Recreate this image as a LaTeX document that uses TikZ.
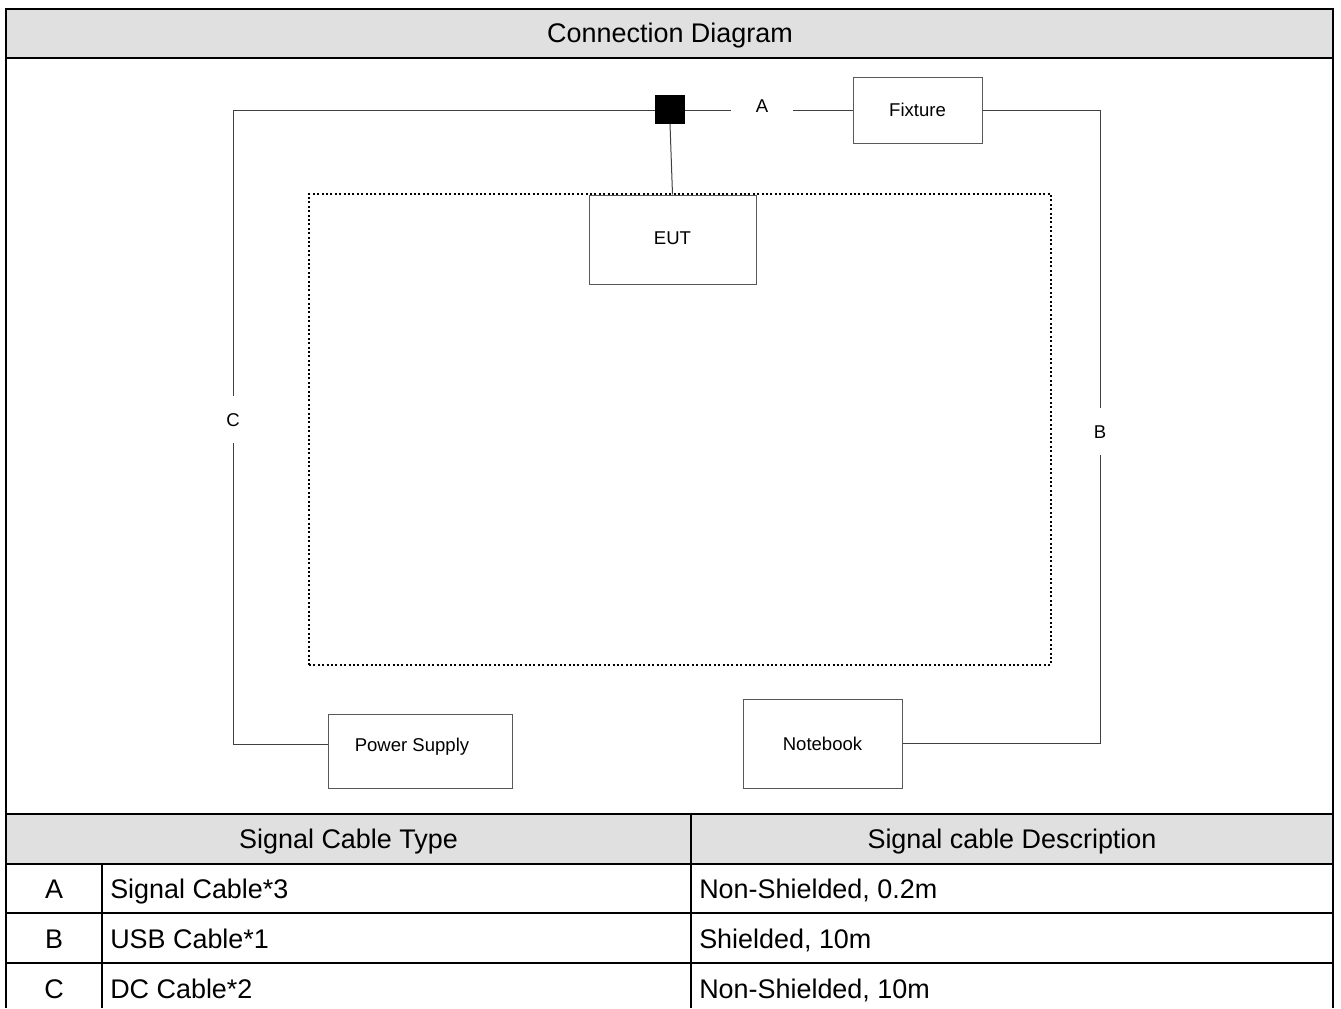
\documentclass[tikz,border=0pt]{standalone}
\usepackage{fontspec}
\setmainfont{Liberation Sans}
\usetikzlibrary{positioning}
\colorlet{Head}{black!12}
\colorlet{Wire}{black!75}
\tikzset{
  device/.style={draw=black!65, line width=0.75pt, fill=white, inner sep=0pt, font=\fontsize{13.9}{16}\selectfont},
  cable/.style={draw=Wire, line width=0.75pt},
  tag/.style={inner sep=0pt, text height=9.95pt, text depth=0pt, font=\fontsize{13.9}{16}\selectfont},
  rule/.style={black, line width=1.5pt},
  cell/.style={inner sep=0pt, text height=14.5pt, text depth=0pt, font=\fontsize{20.2}{24}\selectfont},
}

\begin{document}
\begin{tikzpicture}[x=0.75pt, y=-0.75pt]
        \useasboundingbox (0,0) rectangle (1341,1008);
        % grey bands and frame
        \fill[Head] (6,9) rectangle (1333,58);
        \fill[Head] (6,814) rectangle (1333,864);
        \draw[rule] (6,1008) -- (6,9) -- (1333,9) -- (1333,1008);
        \draw[rule] (6,58) -- (1333,58);
        \draw[rule] (6,814) -- (1333,814);
        \draw[rule] (6,864) -- (1333,864);
        \draw[rule] (6,913) -- (1333,913);
        \draw[rule] (6,963) -- (1333,963);
        \draw[rule] (691,814) -- (691,1008);
        \draw[rule] (102,864) -- (102,1008);
        \node[cell] (title) at (670,33) {Connection Diagram};

        % test area and devices
        \node[draw, line width=1.5pt, dash pattern=on 1.5pt off 1.8pt, minimum width=556.5pt, minimum height=353.25pt] (desk) at (680,429.5) {};
        \node[device, minimum width=125.25pt, minimum height=66.75pt,
              label={[tag, yshift=1.5pt]center:EUT}] (eut) at (672.5,239.5) {};
        \node[device, minimum width=96.75pt, minimum height=49.5pt,
              label={[tag]center:Fixture}] (fix) at (917.5,110) {};
        \node[device, minimum width=138pt, minimum height=55.5pt,
              label={[tag, xshift=-6pt, yshift=4.5pt]center:Power Supply}] (psu) at (420,751) {};
        \node[device, minimum width=119.25pt, minimum height=66.75pt,
              label={[tag]center:Notebook}] (nb) at (822.5,743.5) {};
        \node[fill=black, inner sep=0pt, minimum width=22.5pt, minimum height=21.75pt] (sq) at (670,109) {};

        % cable labels
        \node[tag, minimum width=45.75pt] (labA) at (762,106) {A};
        \node[tag, minimum height=35.25pt] (labB) at (1100,431.5) {B};
        \node[tag, minimum height=35.25pt] (labC) at (233,419.5) {C};

        % cables
        \draw[cable] (sq.south) -- (eut.north);
        \draw[cable] (sq.east |- fix.west) -- (labA.west |- fix.west);
        \draw[cable] (labA.east |- fix.west) -- (fix.west);
        \draw[cable] (fix.east) -| (labB.north);
        \draw[cable] (labB.south) |- (nb.east);
        \draw[cable] ([yshift=5.25pt]psu.west) -| (labC.south);
        \draw[cable] (labC.north) |- (sq.west |- fix.west);

        % cable table
        \node[cell] (hType) at (348.5,839) {Signal Cable Type};
        \node[cell] (hDesc) at (1012,839) {Signal cable Description};
        \node[cell] (rA) at (54,889) {A};
        \node[cell] (rB) at (54,938.5) {B};
        \node[cell] (rC) at (54,988.5) {C};
        \node[cell, anchor=west] (tA) at (110,889) {Signal Cable*3};
        \node[cell, anchor=west] (tB) at (110,938.5) {USB Cable*1};
        \node[cell, anchor=west] (tC) at (110,988.5) {DC Cable*2};
        \node[cell, anchor=west] (dA) at (699,889) {Non-Shielded, 0.2m};
        \node[cell, anchor=west] (dB) at (699,938.5) {Shielded, 10m};
        \node[cell, anchor=west] (dC) at (699,988.5) {Non-Shielded, 10m};
   \end{tikzpicture}
\end{document}
